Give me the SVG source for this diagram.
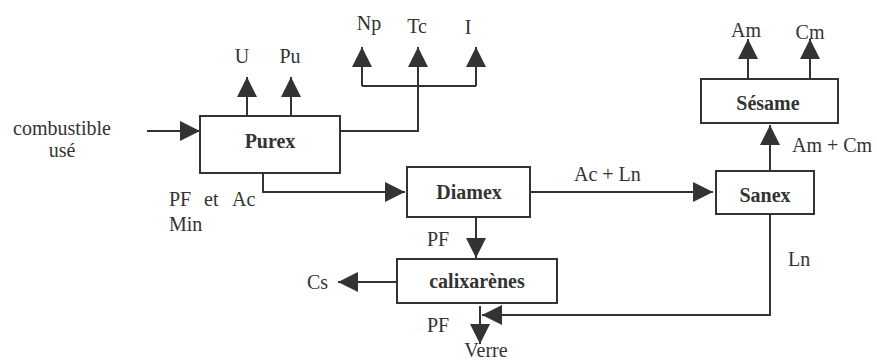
<svg xmlns="http://www.w3.org/2000/svg" width="877" height="363" viewBox="0 0 877 363">
<style>
.box{fill:#fff;stroke:#333;stroke-width:2}
.c{fill:none;stroke:#333;stroke-width:2}
text{font-family:'Liberation Serif','Times New Roman',Tinos,'Noto Serif','DejaVu Serif',FreeSerif,'Nimbus Roman',Times,serif;font-size:20px;fill:#333}
.b{font-weight:bold;text-anchor:middle}
.m{text-anchor:middle}
</style>
<defs>
<marker id="ah" markerUnits="userSpaceOnUse" markerWidth="20" markerHeight="20" refX="20" refY="10" orient="auto">
<path d="M0,0 L20,10 L0,20 z" fill="#333"/>
</marker>
</defs>
<g id="connectors">
<path class="c" d="M147,131 H200" marker-end="url(#ah)"/>
<path class="c" d="M247,116 V77" marker-end="url(#ah)"/>
<path class="c" d="M291,116 V77" marker-end="url(#ah)"/>
<path class="c" d="M340,131 H418 V86"/>
<path class="c" d="M362,86 H476"/>
<path class="c" d="M362,86 V47" marker-end="url(#ah)"/>
<path class="c" d="M418,86 V47" marker-end="url(#ah)"/>
<path class="c" d="M476,86 V47" marker-end="url(#ah)"/>
<path class="c" d="M263,173 V192 H405" marker-end="url(#ah)"/>
<path class="c" d="M530,192 H713" marker-end="url(#ah)"/>
<path class="c" d="M770,171 V125" marker-end="url(#ah)"/>
<path class="c" d="M748,79 V39" marker-end="url(#ah)"/>
<path class="c" d="M810,79 V39" marker-end="url(#ah)"/>
<path class="c" d="M476,217 V258" marker-end="url(#ah)"/>
<path class="c" d="M397,282 H338" marker-end="url(#ah)"/>
<path class="c" d="M480,306 V344" marker-end="url(#ah)"/>
<path class="c" d="M770,214 V315 H482" marker-end="url(#ah)"/>
</g>
<g id="purex"><rect class="box" x="200" y="116" width="140" height="57"/><text class="b" x="270" y="148">Purex</text></g>
<g id="diamex"><rect class="box" x="407" y="167" width="123" height="50"/><text class="b" x="469" y="199">Diamex</text></g>
<g id="sanex"><rect class="box" x="716" y="171" width="98" height="43"/><text class="b" x="765" y="202">Sanex</text></g>
<g id="sesame"><rect class="box" x="701" y="79" width="137" height="44"/><text class="b" x="768" y="110">Sésame</text></g>
<g id="calixarenes"><rect class="box" x="397" y="259" width="160" height="44"/><text class="b" x="477" y="288">calixarènes</text></g>
<g id="labels">
<text class="m" x="62" y="135">combustible</text>
<text class="m" x="62" y="157">usé</text>
<text class="m" x="242" y="63">U</text>
<text class="m" x="290" y="63">Pu</text>
<text class="m" x="369" y="30">Np</text>
<text class="m" x="417" y="33">Tc</text>
<text class="m" x="468" y="34">I</text>
<text class="m" x="746" y="37">Am</text>
<text class="m" x="810" y="39">Cm</text>
<text x="792" y="152">Am + Cm</text>
<text x="574" y="181">Ac + Ln</text>
<text y="206"><tspan x="169">PF</tspan><tspan x="204">et</tspan><tspan x="232">Ac</tspan></text>
<text x="169" y="231">Min</text>
<text x="427" y="246">PF</text>
<text x="307" y="289">Cs</text>
<text x="788" y="266">Ln</text>
<text x="427" y="332">PF</text>
<text class="m" x="486" y="357">Verre</text>
</g>
</svg>
